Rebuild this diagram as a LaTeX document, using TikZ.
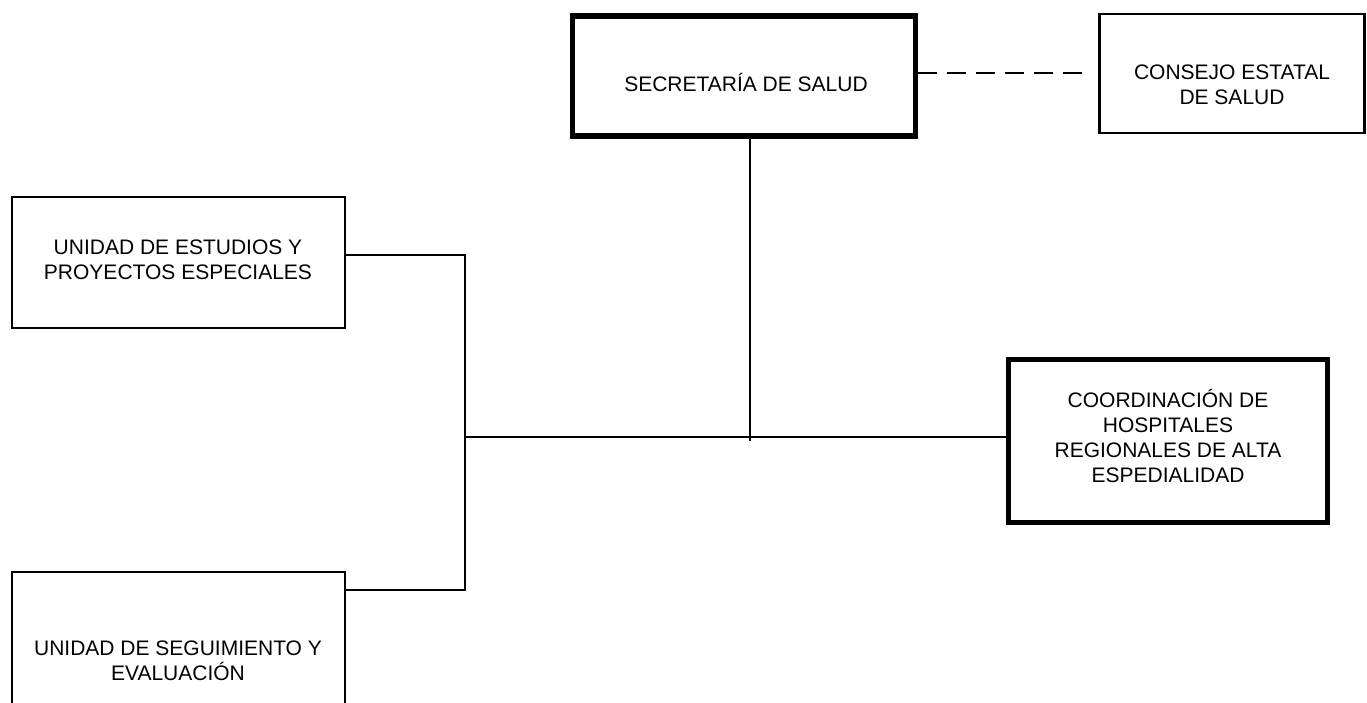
\documentclass[tikz,border=0pt]{standalone}
\usepackage{fontspec}
\setmainfont{Liberation Sans}
\usetikzlibrary{calc,positioning}

\tikzset{
  unitbox/.style={draw=black,line width=2.3pt,minimum width=#1},
  mainbox/.style={draw=black,line width=5.5pt},
  boxtext/.style={align=center,font=\fontsize{21}{25}\selectfont,inner sep=0pt},
  link/.style={line width=2.8pt}
}

\begin{document}
\begin{tikzpicture}[x=1pt,y=-1pt]
\useasboundingbox (0,0) rectangle (1367,703);
\clip (0,0) rectangle (1367,703);

% boxes
\node[mainbox,minimum width=343pt,minimum height=120pt] (sec) at (744,76) {};
\node[unitbox=265pt,minimum height=119pt] (cons) at (1232,73.5) {};
\node[unitbox=333pt,minimum height=131pt] (est) at (178.5,262.5) {};
\node[unitbox=333pt,minimum height=140pt] (seg) at (178.5,642) {};
\node[mainbox,minimum width=319pt,minimum height=163pt] (coord) at (1168,441) {};

% texts
\node[boxtext] (secT) at (746,83) {SECRETARÍA DE SALUD};
\node[boxtext] (consT) at (1232,85) {CONSEJO ESTATAL\\DE SALUD};
\node[boxtext] (estT) at (178,260) {UNIDAD DE ESTUDIOS Y\\PROYECTOS ESPECIALES};
\node[boxtext] (segT) at (178,661) {UNIDAD DE SEGUIMIENTO Y\\EVALUACIÓN};
\node[boxtext] (coordT) at (1168,436) {COORDINACIÓN DE\\HOSPITALES\\REGIONALES DE ALTA\\ESPEDIALIDAD};

% connectors
\coordinate (hub) at (750,441);
\coordinate (left) at (465,437);
\draw[link] (sec.south -| hub) -- (hub);
\draw[link,dash pattern=on 19pt off 10pt,shorten >=13pt] (sec.east |- 0,73) -- (cons.west |- 0,73);
\draw[link] (est.east |- 0,255) -| (left) |- (seg.east |- 0,590);
\draw[link] (left) -- (coord.west |- left);

\end{tikzpicture}
\end{document}
